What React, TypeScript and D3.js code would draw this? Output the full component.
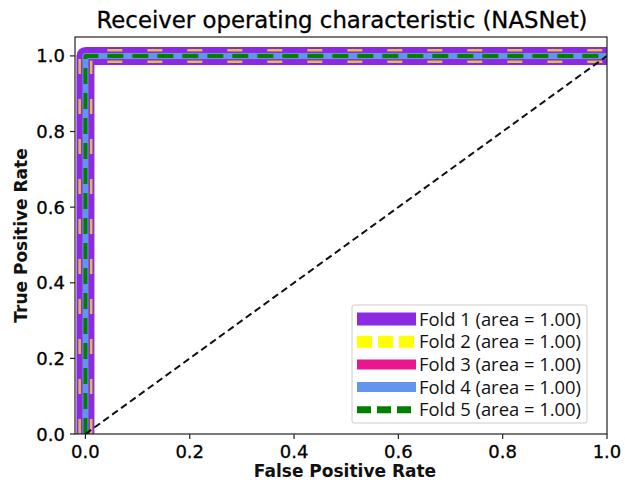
import React from "react";
import * as d3 from "d3";

const W = 625;
const H = 483;

const foldNames = ["Fold 1", "Fold 2", "Fold 3", "Fold 4", "Fold 5"];
const foldAUC = [1.0, 1.0, 1.0, 1.0, 1.0];
const foldFPR = [
  [0.0, 0.0, 1.0],
  [0.0, 0.0, 1.0],
  [0.0, 0.0, 1.0],
  [0.0, 0.0, 1.0],
  [0.0, 0.0, 1.0],
];
const foldTPR = [
  [0.0, 1.0, 1.0],
  [0.0, 1.0, 1.0],
  [0.0, 1.0, 1.0],
  [0.0, 1.0, 1.0],
  [0.0, 1.0, 1.0],
];
const diagX = [0, 1];
const diagY = [0, 1];
const xTicks = [0.0, 0.2, 0.4, 0.6, 0.8, 1.0];
const yTicks = [0.0, 0.2, 0.4, 0.6, 0.8, 1.0];

const styles = [
  { color: "#8a2be2", width: 18, dash: null, opacity: 1, lw: 13, ldash: null, hollow: 0 },
  { color: "#ffff00", width: 14, dash: "15 25", opacity: 0.7, lw: 12, ldash: "15 6", hollow: 9 },
  { color: "#e8178f", width: 9, dash: null, opacity: 0.15, lw: 10, ldash: null, hollow: 0 },
  { color: "#6495ed", width: 6, dash: null, opacity: 1, lw: 10, ldash: null, hollow: 0 },
  { color: "#008000", width: 4, dash: "16 9", opacity: 1, lw: 7, ldash: "14 6", hollow: 0 },
];

const L = 75, R = 607, T = 37, B = 434;

export default function App() {
  const x = d3.scaleLinear().domain([-0.02, 1.0]).range([L, R]);
  const y = d3.scaleLinear().domain([0, 1.05]).range([B, T]);
  const line = d3
    .line<[number, number]>()
    .x((d) => x(d[0]))
    .y((d) => y(d[1]));

  const fmt = d3.format(".1f");
  const legX = 352, legY = 305, legW = 235, legH = 118;
  const rowH = 22.7;
  const paths = foldNames.map((_, i) =>
    line(foldFPR[i].map((fx, j) => [fx, foldTPR[i][j]] as [number, number])) || ""
  );

  return (
    <svg width={W} height={H} style={{ position: "absolute", left: 0, top: 0, background: "#fff" }}>
      <defs>
        <clipPath id="plotclip">
          <rect x={L} y={T} width={R - L} height={B - T} />
        </clipPath>
        {styles.map((s, i) =>
          s.hollow ? (
            <mask id={"hollow" + i} key={"m" + i} maskUnits="userSpaceOnUse" x={0} y={0} width={W} height={H}>
              <path d={paths[i]} fill="none" stroke="#fff" strokeWidth={s.width + 2} strokeLinejoin="round" />
              <path d={paths[i]} fill="none" stroke="#000" strokeWidth={s.hollow} strokeLinejoin="round" />
            </mask>
          ) : null
        )}
      </defs>
      <rect x={0} y={0} width={W} height={H} fill="#fff" />
      <text
        x={(L + R) / 2 + 1}
        y={28}
        textAnchor="middle"
        fontFamily="DejaVu Sans"
        fontSize={22.5}
        fill="#000"
        stroke="#000"
        strokeWidth={0.3}
        textLength={491}
        lengthAdjust="spacingAndGlyphs"
      >
        Receiver operating characteristic (NASNet)
      </text>
      <g clipPath="url(#plotclip)">
        {foldNames.map((n, i) => {
          const s = styles[i];
          return (
            <path
              key={n}
              d={paths[i]}
              fill="none"
              stroke={s.color}
              strokeWidth={s.width}
              strokeOpacity={s.opacity}
              strokeDasharray={s.dash || undefined}
              strokeLinejoin="round"
              strokeLinecap={s.dash ? "butt" : "round"}
              mask={s.hollow ? `url(#hollow${i})` : undefined}
            />
          );
        })}
        <path
          d={line(diagX.map((d, i) => [d, diagY[i]] as [number, number])) || ""}
          fill="none"
          stroke="#111"
          strokeWidth={2}
          strokeDasharray="7 4"
        />
      </g>
      <rect x={L} y={T} width={R - L} height={B - T} fill="none" stroke="#222" strokeWidth={1.2} />
      {xTicks.map((t) => (
        <g key={"x" + t}>
          <line x1={x(t)} x2={x(t)} y1={B} y2={B + 5} stroke="#222" strokeWidth={1.2} />
          <text x={x(t)} y={458} textAnchor="middle" fontFamily="DejaVu Sans" fontSize={18} fill="#000" stroke="#000" strokeWidth={0.3}>
            {fmt(t)}
          </text>
        </g>
      ))}
      {yTicks.map((t) => (
        <g key={"y" + t}>
          <line x1={L - 5} x2={L} y1={y(t)} y2={y(t)} stroke="#222" strokeWidth={1.2} />
          <text x={65} y={y(t) + 6.5} textAnchor="end" fontFamily="DejaVu Sans" fontSize={18} fill="#000" stroke="#000" strokeWidth={0.3}>
            {fmt(t)}
          </text>
        </g>
      ))}
      <text
        x={(L + R) / 2 + 4}
        y={477}
        textAnchor="middle"
        fontFamily="DejaVu Sans"
        fontWeight="bold"
        fontSize={17}
        fill="#111"
      >
        False Positive Rate
      </text>
      <text
        transform={`translate(27,${(T + B) / 2}) rotate(-90)`}
        textAnchor="middle"
        fontFamily="DejaVu Sans"
        fontWeight="bold"
        fontSize={17}
        fill="#111"
      >
        True Positive Rate
      </text>
      <g>
        <rect x={legX} y={legY} width={legW} height={legH} rx={2} fill="#fff" fillOpacity={0.9} stroke="#ccc" strokeWidth={1} />
        {foldNames.map((n, i) => {
          const s = styles[i];
          const cy = legY + 14 + i * rowH;
          return (
            <g key={"l" + n}>
              <line
                x1={357}
                x2={416}
                y1={cy}
                y2={cy}
                stroke={s.color}
                strokeWidth={s.lw}
                strokeDasharray={s.ldash || undefined}
              />
              <text
                x={419}
                y={cy + 6.5}
                fontFamily="Open Sans"
                fontSize={18}
                fill="#111"
                textLength={162}
                lengthAdjust="spacingAndGlyphs"
              >
                {`${n} (area = ${foldAUC[i].toFixed(2)})`}
              </text>
            </g>
          );
        })}
      </g>
    </svg>
  );
}
